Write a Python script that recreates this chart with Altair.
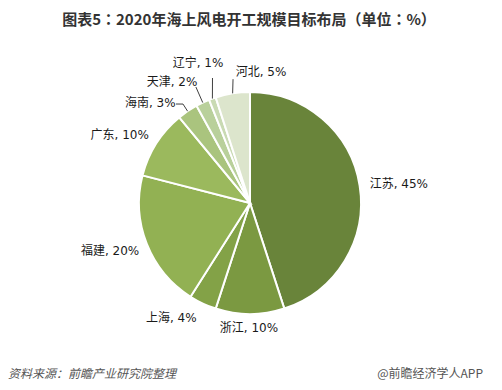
import math
import altair as alt
import pandas as pd

# ---- data ----
provinces = ["江苏", "浙江", "上海", "福建", "广东", "海南", "天津", "辽宁", "河北"]
shares = [45, 10, 4, 20, 10, 3, 2, 1, 5]
colors = ["#69843a", "#7b9941", "#83a247", "#92b153", "#9bb95d",
          "#aac47e", "#b9d09b", "#c9dab3", "#dce5cc"]

title_text = "图表5：2020年海上风电开工规模目标布局（单位：%）"
source_text = "资料来源：前瞻产业研究院整理"
brand_text = "@前瞻经济学人APP"

# ---- layout / style parameters ----
W, H = 486, 374
cx, cy, R = 242, 195, 111
# label placement: (angle offset from slice middle in degrees, radius in px)
label_place = {"江苏": (1.7, 150), "浙江": (0.5, 125), "上海": (9.3, 139),
               "福建": (2.6, 148), "广东": (-4.8, 147), "海南": (-10.8, 141),
               "天津": (-7.6, 144), "辽宁": (-0.6, 149), "河北": (13.8, 131)}
# leader lines for small slices: list of (angle deg, radius px) points after the slice edge
leaders = {"海南": [(325.9, 119.5), (323.2, 123.6)],
           "天津": [(335.0, 128)],
           "辽宁": [(343.3, 130.5)],
           "河北": [(352.2, 125)]}
FONT = "DejaVu Sans, Noto Sans CJK SC"


def polar(ang, r):
    a = math.radians(ang)
    return cx + r * math.sin(a), cy - r * math.cos(a)


total = sum(shares)
mids = {}
acc = 0
for p, s in zip(provinces, shares):
    mids[p] = (acc + s / 2) / total * 360
    acc += s

pie_df = pd.DataFrame({"prov": provinces, "share": shares, "idx": range(len(provinces))})

lab_rows = []
for p, s in zip(provinces, shares):
    off, r = label_place[p]
    x, y = polar(mids[p] + off, r)
    lab_rows.append({"x": x, "y": y, "t": f"{p}, {s}%"})
lab_df = pd.DataFrame(lab_rows)

line_rows = []
for p, pts in leaders.items():
    x0, y0 = polar(mids[p], R)
    line_rows.append({"prov": p, "o": 0, "x": x0, "y": y0})
    for i, (a, r) in enumerate(pts, start=1):
        x, y = polar(a, r)
        line_rows.append({"prov": p, "o": i, "x": x, "y": y})
line_df = pd.DataFrame(line_rows)

pie = alt.Chart(pie_df).mark_arc(outerRadius=R, stroke="white", strokeWidth=2).encode(
    theta=alt.Theta("share:Q", stack=True),
    color=alt.Color("prov:N", scale=alt.Scale(domain=provinces, range=colors), legend=None),
    order=alt.Order("idx:Q", sort="ascending"),
    x=alt.value(cx),
    y=alt.value(cy),
)

leader = alt.Chart(line_df).mark_line(color="#404040", strokeWidth=1).encode(
    x=alt.X("x:Q", scale=None),
    y=alt.Y("y:Q", scale=None),
    detail="prov:N",
    order="o:Q",
)

labels = alt.Chart(lab_df).mark_text(font=FONT, fontSize=12, color="#1a1a1a",
                                     align="center", baseline="middle").encode(
    x=alt.X("x:Q", scale=None),
    y=alt.Y("y:Q", scale=None),
    text="t:N",
)

title = alt.Chart(pd.DataFrame({"t": [title_text]})).mark_text(
    font="Noto Sans CJK TC", fontSize=15, fontWeight="bold", color="#333333",
    align="center", baseline="middle").encode(
    x=alt.value(241), y=alt.value(12), text="t:N")

source = alt.Chart(pd.DataFrame({"t": [source_text]})).mark_text(
    font="Noto Sans CJK SC", fontSize=12, fontStyle="italic", color="#555555",
    align="left", baseline="middle").encode(
    x=alt.value(0), y=alt.value(366), text="t:N")

brand = alt.Chart(pd.DataFrame({"t": [brand_text]})).mark_text(
    font="Noto Sans CJK SC", fontSize=12, color="#555555",
    align="right", baseline="middle").encode(
    x=alt.value(475), y=alt.value(366), text="t:N")

chart = alt.layer(pie, leader, labels, title, source, brand).properties(
    width=W, height=H, padding=0,
    autosize=alt.AutoSizeParams(type="none"),
    background="white",
).configure_view(stroke=None)

chart.save("out.html", embed_options={"renderer": "svg", "actions": False})
